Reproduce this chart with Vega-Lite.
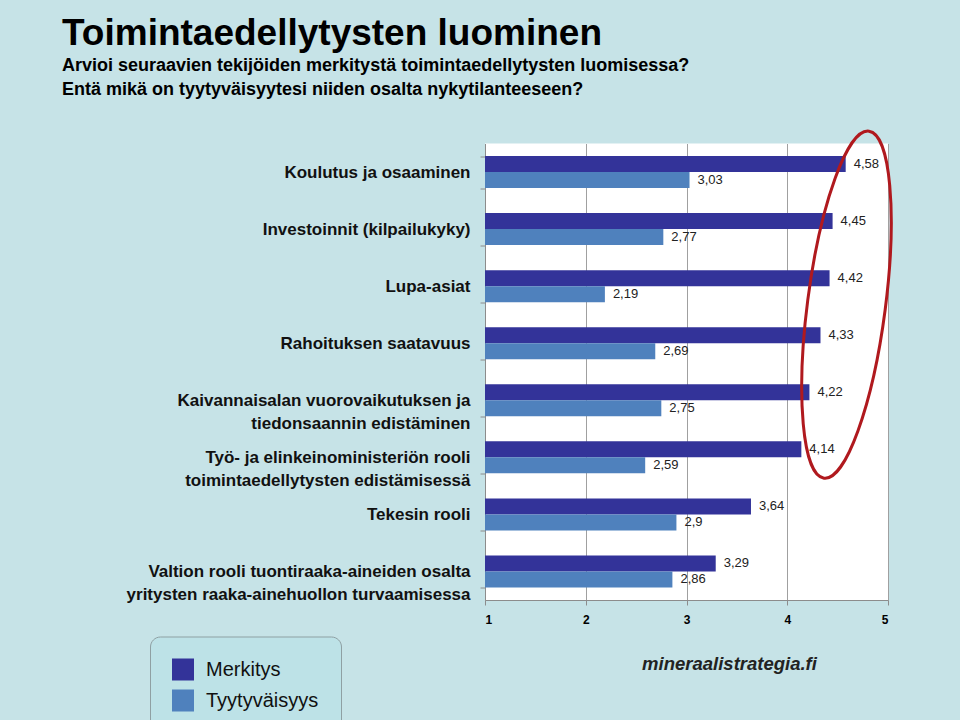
{
  "$schema": "https://vega.github.io/schema/vega-lite/v6.json",
  "width": 403,
  "height": 456.5,
  "autosize": {"type": "none"},
  "padding": {"left": 485, "top": 143.5, "right": 72, "bottom": 120},
  "background": "#c6e3e7",
  "title": {
    "text": "Toimintaedellytysten luominen",
    "subtitle": ["Arvioi seuraavien tekijöiden merkitystä toimintaedellytysten luomisessa?", "Entä mikä on tyytyväisyytesi niiden osalta nykytilanteeseen?"],
    "anchor": "start",
    "frame": "group",
    "dx": -423,
    "offset": 25,
    "font": "Liberation Sans",
    "fontSize": 37,
    "fontWeight": "bold",
    "color": "#000000",
    "subtitleFont": "Liberation Sans",
    "subtitleFontSize": 18,
    "subtitleFontWeight": "bold",
    "subtitleColor": "#000000",
    "subtitleLineHeight": 24,
    "subtitlePadding": 4
  },
  "config": {
    "locale": {"number": {"decimal": ",", "thousands": " ", "grouping": [3], "currency": ["", " €"]}},
    "view": {"fill": "white", "stroke": null},
    "font": "Liberation Sans"
  },
  "data": {
    "values": [
      {"cat": "Koulutus ja osaaminen", "serie": "Merkitys", "value": 4.58},
      {"cat": "Koulutus ja osaaminen", "serie": "Tyytyväisyys", "value": 3.03},
      {"cat": "Investoinnit (kilpailukyky)", "serie": "Merkitys", "value": 4.45},
      {"cat": "Investoinnit (kilpailukyky)", "serie": "Tyytyväisyys", "value": 2.77},
      {"cat": "Lupa-asiat", "serie": "Merkitys", "value": 4.42},
      {"cat": "Lupa-asiat", "serie": "Tyytyväisyys", "value": 2.19},
      {"cat": "Rahoituksen saatavuus", "serie": "Merkitys", "value": 4.33},
      {"cat": "Rahoituksen saatavuus", "serie": "Tyytyväisyys", "value": 2.69},
      {"cat": "Kaivannaisalan vuorovaikutuksen ja|tiedonsaannin edistäminen", "serie": "Merkitys", "value": 4.22},
      {"cat": "Kaivannaisalan vuorovaikutuksen ja|tiedonsaannin edistäminen", "serie": "Tyytyväisyys", "value": 2.75},
      {"cat": "Työ- ja elinkeinoministeriön rooli|toimintaedellytysten edistämisessä", "serie": "Merkitys", "value": 4.14},
      {"cat": "Työ- ja elinkeinoministeriön rooli|toimintaedellytysten edistämisessä", "serie": "Tyytyväisyys", "value": 2.59},
      {"cat": "Tekesin rooli", "serie": "Merkitys", "value": 3.64},
      {"cat": "Tekesin rooli", "serie": "Tyytyväisyys", "value": 2.9},
      {"cat": "Valtion rooli tuontiraaka-aineiden osalta|yritysten raaka-ainehuollon turvaamisessa", "serie": "Merkitys", "value": 3.29},
      {"cat": "Valtion rooli tuontiraaka-aineiden osalta|yritysten raaka-ainehuollon turvaamisessa", "serie": "Tyytyväisyys", "value": 2.86}
    ]
  },
  "encoding": {
    "y": {
      "field": "cat",
      "type": "nominal",
      "sort": null,
      "scale": {"paddingInner": 0.44, "paddingOuter": 0.22},
      "axis": {
        "title": null,
        "labelExpr": "split(datum.label, '|')",
        "labelFont": "Liberation Sans",
        "labelFontSize": 17,
        "labelFontWeight": "bold",
        "labelColor": "#111111",
        "labelPadding": 10,
        "labelLineHeight": 23,
        "labelLimit": 500,
        "tickBand": "extent",
        "tickSize": 5,
        "tickColor": "#8c8c8c",
        "domainColor": "#8c8c8c",
        "grid": false
      }
    },
    "x": {
      "field": "value",
      "type": "quantitative",
      "scale": {"domain": [1, 5], "zero": false, "nice": false},
      "axis": {
        "values": [1, 2, 3, 4, 5],
        "grid": true,
        "gridColor": "#a0a0a0",
        "tickColor": "#8c8c8c",
        "domainColor": "#8c8c8c",
        "tickSize": 5,
        "labelFont": "Liberation Sans",
        "labelFontWeight": "bold",
        "labelFontSize": 12,
        "labelColor": "#000000",
        "labelPadding": 9,
        "title": "mineraalistrategia.fi",
        "titleFont": "Liberation Sans",
        "titleFontStyle": "italic",
        "titleFontWeight": "bold",
        "titleFontSize": 18.5,
        "titleColor": "#222222",
        "titleX": 244,
        "titleY": 69,
        "titleAlign": "center",
        "titleBaseline": "alphabetic"
      }
    }
  },
  "layer": [
    {
      "mark": {"type": "bar"},
      "encoding": {
        "yOffset": {"field": "serie", "type": "nominal", "sort": ["Merkitys", "Tyytyväisyys"]},
        "x2": {"datum": 1},
        "color": {
          "field": "serie",
          "type": "nominal",
          "scale": {"domain": ["Merkitys", "Tyytyväisyys"], "range": ["#333399", "#4f81bd"]},
          "legend": {
            "orient": "none",
            "legendX": -335,
            "legendY": 493,
            "title": null,
            "fillColor": "#bde2e7",
            "strokeColor": "#8fa0a3",
            "cornerRadius": 10,
            "padding": 22,
            "symbolType": "square",
            "symbolSize": 484,
            "symbolStrokeWidth": 0,
            "symbolOpacity": 1,
            "labelFont": "Liberation Sans",
            "labelFontSize": 20,
            "labelColor": "#111111",
            "labelOffset": 12,
            "labelLimit": 300,
            "rowPadding": 9
          }
        }
      }
    },
    {
      "mark": {"type": "text", "align": "left", "baseline": "middle", "dx": 8, "fontSize": 13, "font": "Liberation Sans", "fill": "#222222"},
      "encoding": {
        "yOffset": {"field": "serie", "type": "nominal", "sort": ["Merkitys", "Tyytyväisyys"]},
        "text": {"field": "value", "type": "quantitative", "format": ".3~g"}
      }
    },
    {
      "data": {"values": [{"cat": "Lupa-asiat", "value": 4.588}]},
      "mark": {
        "type": "point",
        "shape": "M22.5,-155 C43.86,-152.22 51.1,-72.29 38.67,23.53 C26.24,119.35 -1.14,194.78 -22.5,192 C-43.86,189.22 -51.1,109.29 -38.67,13.47 C-26.24,-82.35 1.14,-157.78 22.5,-155 Z",
        "size": 4,
        "filled": false,
        "stroke": "#b0191e",
        "strokeWidth": 3,
        "opacity": 1
      },
      "encoding": {}
    }
  ]
}
